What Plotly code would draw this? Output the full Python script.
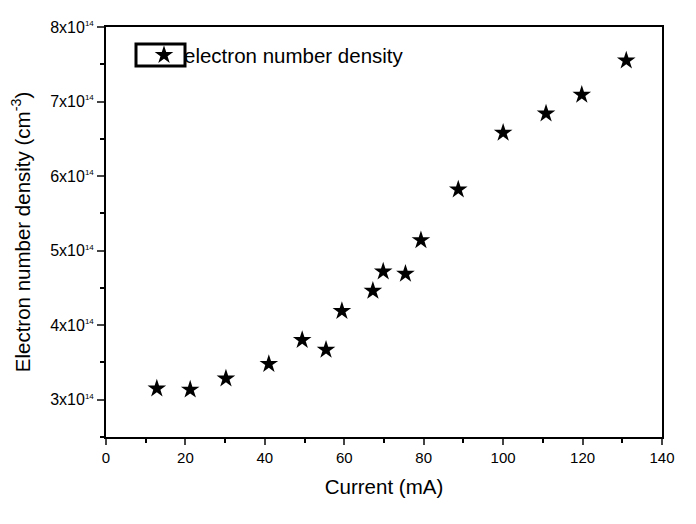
import plotly.graph_objects as go

current_mA = [12.8, 21.2, 30.2, 41.0, 49.4, 55.4, 59.4, 67.2, 69.8, 75.4, 79.3, 88.7, 100.0, 110.8, 119.8, 131.0]
density_e14 = [3.15, 3.135, 3.285, 3.48, 3.80, 3.67, 4.19, 4.46, 4.72, 4.69, 5.14, 5.82, 6.58, 6.84, 7.09, 7.55]
density = [v * 1e14 for v in density_e14]

y_tick_vals = [3e14, 4e14, 5e14, 6e14, 7e14, 8e14]
y_tick_text = ["%dx10<sup><span style='font-size:8px'>14</span></sup>" % m for m in (3, 4, 5, 6, 7, 8)]
x_tick_vals = [0, 20, 40, 60, 80, 100, 120, 140]

FONT = "Liberation Sans, Arial, sans-serif"

fig = go.Figure()
fig.add_trace(go.Scatter(
    x=current_mA, y=density, mode="markers",
    name="electron number density",
    marker=dict(symbol="star", size=14, color="black", line=dict(width=0)),
))

# page body has an 8px margin; figure sized so the plot area lands where the reference has it
fig.update_layout(
    width=688, height=516,
    margin=dict(l=98, r=34, t=19, b=87),
    paper_bgcolor="white", plot_bgcolor="white",
    font=dict(family=FONT, color="black", size=15),
    showlegend=True,
    legend=dict(x=(144 - 106) / 556, y=0.98, xanchor="left", yanchor="top",
                bgcolor="rgba(0,0,0,0)", font=dict(size=20.5, family=FONT),
                itemwidth=30),
    xaxis=dict(range=[0, 140], tickvals=x_tick_vals, ticks="outside", ticklen=6,
               tickwidth=2, linewidth=2, linecolor="black", mirror=True,
               showgrid=False, zeroline=False,
               minor=dict(dtick=10, tick0=0, ticks="outside", ticklen=4, tickwidth=2, tickcolor="black"),
               title=dict(text="Current (mA)", font=dict(size=20.5), standoff=15),
               tickfont=dict(size=15)),
    yaxis=dict(range=[2.5e14, 8e14], tickvals=y_tick_vals, ticktext=y_tick_text,
               ticks="outside", ticklen=7, tickwidth=2, linewidth=2, linecolor="black",
               mirror=True, showgrid=False, zeroline=False,
               minor=dict(dtick=0.5e14, tick0=0, ticks="outside", ticklen=4, tickwidth=2, tickcolor="black"),
               title=dict(text="Electron number density (cm<sup>-3</sup>)", font=dict(size=20.5), standoff=15),
               tickfont=dict(size=16)),
)

fig.add_shape(type="rect", xref="paper", yref="paper",
              x0=(136 - 106) / 556, x1=(185 - 106) / 556,
              y0=(437 - 66) / 410, y1=(437 - 44) / 410,
              line=dict(color="black", width=3), fillcolor="rgba(0,0,0,0)")

fig.write_html("out.html")
